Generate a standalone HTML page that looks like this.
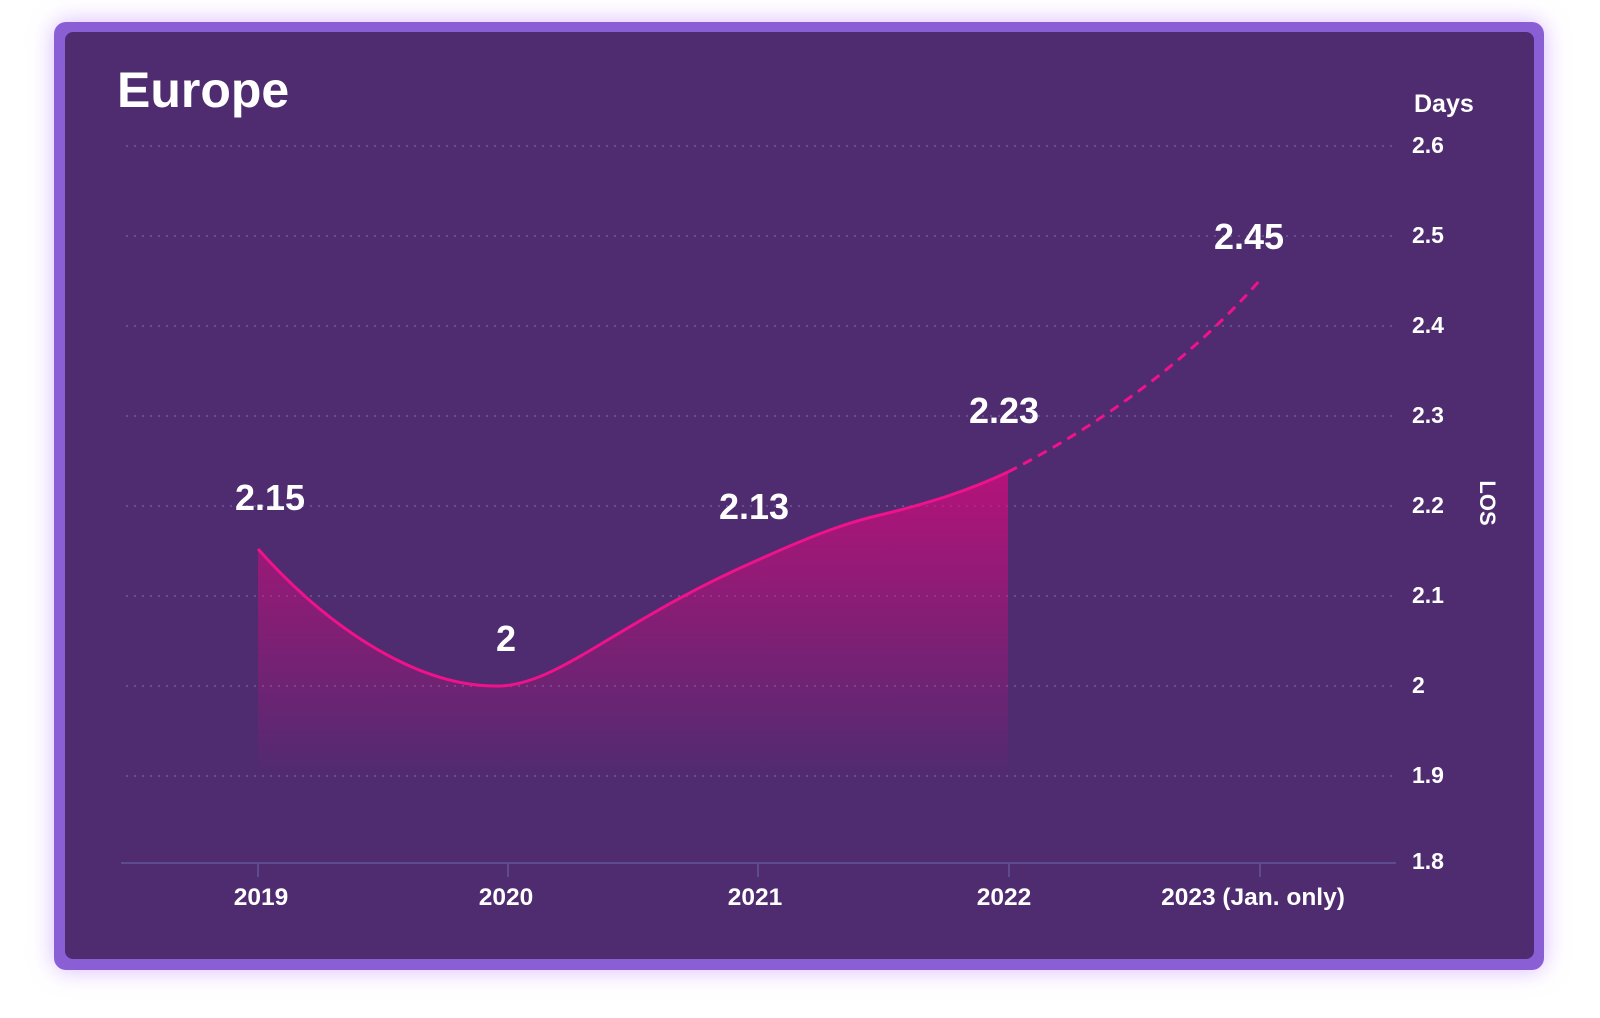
<!DOCTYPE html>
<html><head><meta charset="utf-8"><style>
html,body{margin:0;padding:0;background:#fff;width:1600px;height:1018px;overflow:hidden}
svg{position:absolute;left:0;top:0}
text{font-family:"Liberation Sans",sans-serif;font-weight:bold;fill:#fff}
</style></head><body>
<svg width="1600" height="1018" viewBox="0 0 1600 1018">
<defs>
<filter id="glow" x="-10%" y="-10%" width="120%" height="120%"><feGaussianBlur stdDeviation="12"/></filter>
<linearGradient id="fill" x1="0" y1="0" x2="0" y2="1">
<stop offset="0" stop-color="#e0087e" stop-opacity="0.7"/>
<stop offset="1" stop-color="#e0087e" stop-opacity="0"/>
</linearGradient>
</defs>
<rect x="54" y="22" width="1490" height="948" rx="12" fill="#d9b8ff" filter="url(#glow)"/>
<rect x="54" y="22" width="1490" height="948" rx="12" fill="#8a5fd6"/>
<rect x="65" y="32" width="1469" height="927" rx="8" fill="#4f2b70"/>
<g stroke="#65518f" stroke-width="2" stroke-dasharray="2 6">
<line x1="126" x2="1396" y1="146" y2="146"/>
<line x1="126" x2="1396" y1="236" y2="236"/>
<line x1="126" x2="1396" y1="326" y2="326"/>
<line x1="126" x2="1396" y1="416" y2="416"/>
<line x1="126" x2="1396" y1="506" y2="506"/>
<line x1="126" x2="1396" y1="596" y2="596"/>
<line x1="126" x2="1396" y1="686" y2="686"/>
<line x1="126" x2="1396" y1="776" y2="776"/>
</g>
<line x1="121" x2="1396" y1="863" y2="863" stroke="#5d4a8f" stroke-width="2"/>
<g stroke="#5d4a8f" stroke-width="2">
<line x1="258" x2="258" y1="863" y2="877"/><line x1="508" x2="508" y1="863" y2="877"/>
<line x1="758" x2="758" y1="863" y2="877"/><line x1="1009" x2="1009" y1="863" y2="877"/>
<line x1="1260" x2="1260" y1="863" y2="877"/></g>
<path d="M258,549 C330,630 420,688 500,686 C560,684 620,620 758,560 C820,532 850,522 880,515 C930,503 970,490 1008,472 L1008,780 L258,780 Z" fill="url(#fill)"/>
<path d="M258,549 C330,630 420,688 500,686 C560,684 620,620 758,560 C820,532 850,522 880,515 C930,503 970,490 1008,472" fill="none" stroke="#f0128a" stroke-width="3"/>
<path d="M1008,472 C1100,425 1190,360 1260,280" fill="none" stroke="#f0128a" stroke-width="3" stroke-dasharray="10 7"/>
<text x="117" y="107" font-size="50">Europe</text>
<text x="1414" y="112" font-size="25">Days</text>
<g font-size="23">
<text x="1412" y="153">2.6</text><text x="1412" y="243">2.5</text><text x="1412" y="333">2.4</text>
<text x="1412" y="423">2.3</text><text x="1412" y="513">2.2</text><text x="1412" y="603">2.1</text>
<text x="1412" y="693">2</text><text x="1412" y="783">1.9</text><text x="1412" y="869">1.8</text>
</g>
<text transform="translate(1480,503) rotate(90)" font-size="22" text-anchor="middle" font-weight="normal">LOS</text>
<g font-size="24.5" text-anchor="middle">
<text x="261" y="905">2019</text><text x="506" y="905">2020</text><text x="755" y="905">2021</text>
<text x="1004" y="905">2022</text><text x="1253" y="905">2023 (Jan. only)</text>
</g>
<g font-size="36" text-anchor="middle">
<text x="270" y="510">2.15</text><text x="506" y="651">2</text><text x="754" y="519">2.13</text>
<text x="1004" y="423">2.23</text><text x="1249" y="249">2.45</text>
</g>
</svg>
</body></html>
